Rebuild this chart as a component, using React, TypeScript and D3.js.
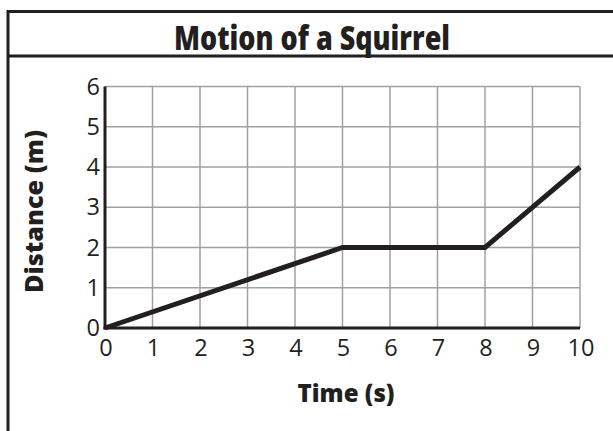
import React from "react";
import * as d3 from "d3";

const times = [0, 5, 8, 10];
const distances = [0, 2, 2, 4];
const xTicks = [0, 1, 2, 3, 4, 5, 6, 7, 8, 9, 10];
const yTicks = [0, 1, 2, 3, 4, 5, 6];
const title = "Motion of a Squirrel";
const xLabel = "Time (s)";
const yLabel = "Distance (m)";

const W = 613;
const H = 431;
const ink = "#231f20";
const font = "'Open Sans', 'DejaVu Sans', sans-serif";
const boldFont = "'Open Sans', 'DejaVu Sans', sans-serif";

export default function App() {
  const x = d3.scaleLinear().domain([0, 10]).range([105, 580]);
  const y = d3.scaleLinear().domain([0, 6]).range([328, 86.5]);
  const pts = times.map((t, i) => [t, distances[i]] as [number, number]);
  const line = d3
    .line<[number, number]>()
    .x((d) => x(d[0]))
    .y((d) => y(d[1]));

  return (
    <svg
      width={W}
      height={H}
      style={{ position: "absolute", left: 0, top: 0, background: "#fff" }}
    >
      <rect x={0} y={0} width={W} height={H} fill="#fff" />
      {/* frame */}
      <path d={`M8,${H} V11.5 H${W}`} fill="none" stroke={ink} strokeWidth={3} />
      <line x1={8} x2={W} y1={56} y2={56} stroke={ink} strokeWidth={3} />
      <text
        x={312}
        y={49.5}
        textAnchor="middle"
        fontFamily={boldFont}
        fontWeight={800}
        fontSize={33}
        textLength={276}
        lengthAdjust="spacingAndGlyphs"
        fill={ink}
      >
        {title}
      </text>

      {/* grid */}
      {xTicks.map((t) => (
        <line key={"gx" + t} x1={x(t)} x2={x(t)} y1={y(6)} y2={y(0)} stroke="#a0a0a0" strokeWidth={1.5} />
      ))}
      {yTicks.map((t) => (
        <line key={"gy" + t} x1={x(0)} x2={x(10)} y1={y(t)} y2={y(t)} stroke="#a0a0a0" strokeWidth={1.5} />
      ))}

      {/* axes */}
      <line x1={x(0)} x2={x(0)} y1={y(6)} y2={y(0) + 1.5} stroke={ink} strokeWidth={3} />
      <line x1={x(0) - 1.5} x2={x(10)} y1={y(0)} y2={y(0)} stroke={ink} strokeWidth={3} />

      {/* tick labels */}
      {xTicks.map((t) => (
        <text key={"tx" + t} x={x(t) + 1} y={356} textAnchor="middle" fontFamily={font} fontSize={23.5} fill={ink}>
          {t}
        </text>
      ))}
      {yTicks.map((t) => (
        <text key={"ty" + t} x={100} y={y(t) + 8} textAnchor="end" fontFamily={font} fontSize={23.5} fill={ink}>
          {t}
        </text>
      ))}

      {/* axis titles */}
      <text
        x={346}
        y={401.5}
        textAnchor="middle"
        fontFamily={boldFont}
        fontWeight={800}
        fontSize={24}
        textLength={97}
        lengthAdjust="spacingAndGlyphs"
        fill={ink}
      >
        {xLabel}
      </text>
      <text
        transform={`translate(43,${211.5}) rotate(-90)`}
        textAnchor="middle"
        fontFamily={boldFont}
        fontWeight={800}
        fontSize={24}
        textLength={163}
        lengthAdjust="spacingAndGlyphs"
        fill={ink}
      >
        {yLabel}
      </text>

      {/* data line */}
      <path d={line(pts) ?? ""} fill="none" stroke={ink} strokeWidth={5} strokeLinejoin="miter" />
    </svg>
  );
}
